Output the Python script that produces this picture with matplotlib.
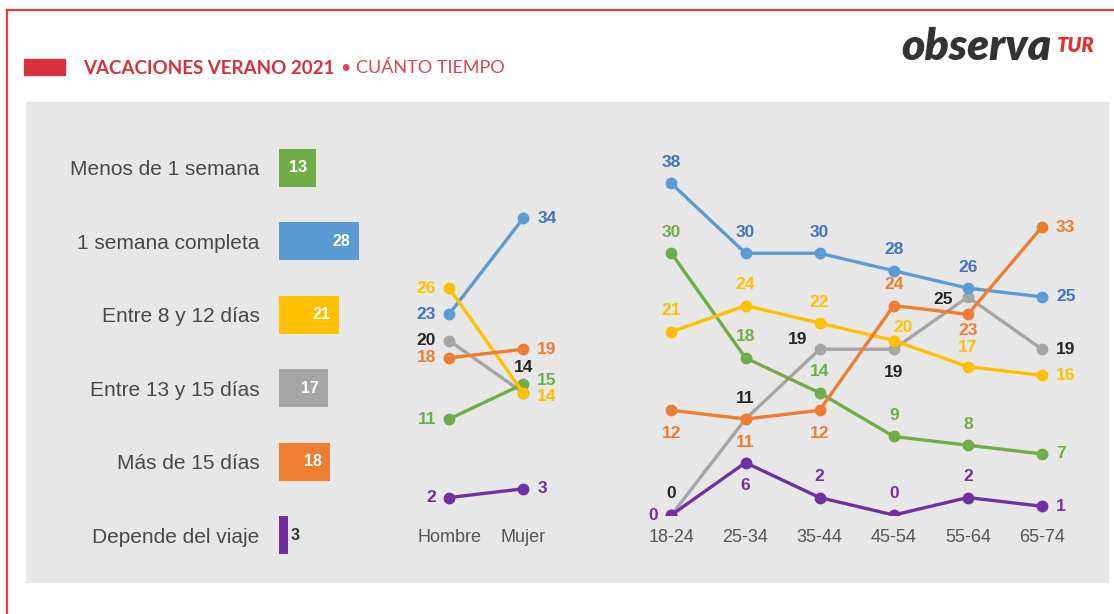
import matplotlib
matplotlib.use("Agg")
import matplotlib.pyplot as plt
from matplotlib.patches import Rectangle
from matplotlib.lines import Line2D

# --- data ---
categories = ["Menos de 1 semana", "1 semana completa", "Entre 8 y 12 días",
              "Entre 13 y 15 días", "Más de 15 días", "Depende del viaje"]
total = [13, 28, 21, 17, 18, 3]

gender_labels = ["Hombre", "Mujer"]
gender = {
    "Menos de 1 semana": [11, 15],
    "1 semana completa": [23, 34],
    "Entre 8 y 12 días": [26, 14],
    "Entre 13 y 15 días": [20, 14],
    "Más de 15 días": [18, 19],
    "Depende del viaje": [2, 3],
}

age_labels = ["18-24", "25-34", "35-44", "45-54", "55-64", "65-74"]
age = {
    "Menos de 1 semana": [30, 18, 14, 9, 8, 7],
    "1 semana completa": [38, 30, 30, 28, 26, 25],
    "Entre 8 y 12 días": [21, 24, 22, 20, 17, 16],
    "Entre 13 y 15 días": [0, 11, 19, 19, 25, 19],
    "Más de 15 días": [12, 11, 12, 24, 23, 33],
    "Depende del viaje": [0, 6, 2, 0, 2, 1],
}

# --- style ---
colors = ["#70AD47", "#5B9BD5", "#FFC000", "#A5A5A5", "#ED7D31", "#7030A0"]
label_colors = ["#70AD47", "#4472C4", "#FFC000", "#262626", "#ED7D31", "#7030A0"]

# label placement: 'a' above, 'b' below, 'l' left, 'r' right, or (dx, dy, ha) pixels
A, B, L, R = "a", "b", "l", "r"
gender_pos = [
    [L, (14, 4, "left")], [L, R], [L, (14, -4, "left")], [L, (0, 25)], [L, R], [L, R],
]
age_pos = [
    [A, A, A, A, A, R],
    [A, A, A, A, A, R],
    [A, A, A, (9, 13), (0, 19), R],
    [A, A, (-22, 10), B, (-25, -3), R],
    [B, B, B, A, (0, -16), R],
    [L, B, A, A, A, R],
]

W, H = 1114, 614
panel_color = "#E8E7E8"
font = "Liberation Sans"


def box(x0, y0, x1, y1):
    return [x0 / W, 1 - y1 / H, (x1 - x0) / W, (y1 - y0) / H]


def place(code):
    if code == A:
        return (0, 21), "center"
    if code == B:
        return (0, -23), "center"
    if code == L:
        return (-13, 0), "right"
    if code == R:
        return (14, 0), "left"
    if len(code) == 3:
        return code[:2], code[2]
    return code, "center"


fig = plt.figure(figsize=(W / 100, H / 100), dpi=100)
fig.patch.set_facecolor("white")

# slide frame and grey panel
fig.add_artist(Line2D([7 / W, 7 / W], [0, 1 - 10 / H], color="#EE3B33", lw=1.6))
fig.add_artist(Line2D([7 / W, 1], [1 - 10 / H, 1 - 10 / H], color="#EE3B33", lw=1.6))
fig.add_artist(Rectangle((26 / W, 1 - 582 / H), (1108 - 26) / W, (582 - 102) / H,
                         transform=fig.transFigure, color=panel_color, zorder=0))

# title
fig.add_artist(Rectangle((24 / W, 1 - 75 / H), 41 / W, 16 / H,
                         transform=fig.transFigure, color="#D7303D"))
fig.text(83 / W, 1 - 68 / H, "VACACIONES VERANO 2021", family="Lato",
         weight="bold", size=13.5, color="#D7303D", va="center")
fig.text(341 / W, 1 - 68 / H, "• CUÁNTO TIEMPO", family="Lato",
         size=13, color="#DD4450", va="center")

# logo
fig.text(1052 / W, 1 - 47 / H, "observa", family="Lato", weight="heavy",
         style="italic", size=32, color="#333333", ha="right", va="center")
fig.text(1057 / W, 1 - 46 / H, "TUR", family="Lato", weight="heavy",
         style="italic", size=14.5, color="#E8302C", ha="left", va="center")

# --- left: totals ---
axb = fig.add_axes(box(279, 131, 379, 572))
axb.set_facecolor("none")
ypos = list(range(len(categories)))
axb.barh(ypos, total, height=0.52, color=colors)
axb.set_xlim(0, 35)
axb.set_ylim(5.5, -0.5)
axb.set_yticks(ypos)
axb.set_yticklabels(categories, family=font, size=15, color="#484848")
axb.tick_params(axis="y", length=0, pad=14)
axb.set_xticks([])
for s in axb.spines.values():
    s.set_visible(False)
for y, v in zip(ypos, total):
    if v > 5:
        axb.annotate(str(v), (v, y), xytext=(-9, 0), textcoords="offset pixels",
                     ha="right", va="center", color="white", weight="bold",
                     family=font, size=11.5)
    else:
        axb.annotate(str(v), (v, y), xytext=(3, 0), textcoords="offset pixels",
                     ha="left", va="center", color="#333333", weight="bold",
                     family=font, size=11.5)

# --- right: gender and age lines on one axis ---
ax = fig.add_axes(box(412, 166, 1079, 515))
ax.set_facecolor("none")
gx = [0, 1]
axx = [3, 4, 5, 6, 7, 8]
ax.axhline(0, color="#D9D8D9", lw=1, zorder=0)
for i, cat in enumerate(categories):
    for xs, ys, pos in ((gx, gender[cat], gender_pos[i]), (axx, age[cat], age_pos[i])):
        ax.plot(xs, ys, color=colors[i], lw=2.4, marker="o", ms=7.5,
                solid_capstyle="round", zorder=3 if i != 3 else 2)
        for x, y, code in zip(xs, ys, pos):
            off, ha = place(code)
            ax.annotate(str(y), (x, y), xytext=off, textcoords="offset pixels",
                        ha=ha, va="center", color=label_colors[i],
                        weight="bold", family=font, size=12.5, zorder=5)
ax.set_xlim(-0.5, 8.5)
ax.set_ylim(0, 40)
ax.set_xticks(gx + axx)
ax.set_xticklabels(gender_labels + age_labels, family=font, size=13, color="#555555")
ax.tick_params(axis="x", length=0, pad=10)
ax.set_yticks([])
for s in ax.spines.values():
    s.set_visible(False)

fig.savefig("out.png", dpi=100)
